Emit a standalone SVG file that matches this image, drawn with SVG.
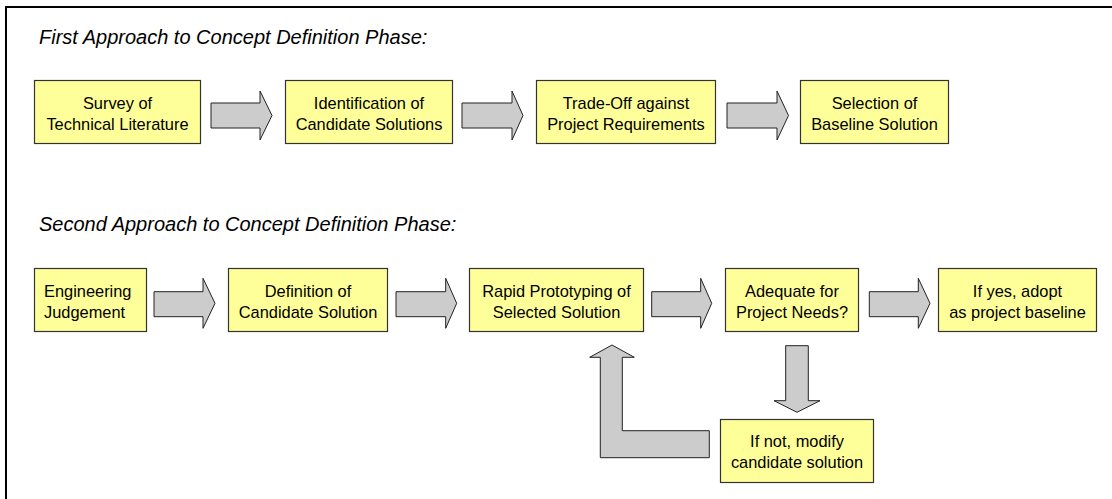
<svg xmlns="http://www.w3.org/2000/svg" width="1112" height="499" viewBox="0 0 1112 499">
  <style>
    .frame { stroke: #000; stroke-width: 2; fill: none; }
    .box { fill: #FFFF99; stroke: #333; stroke-width: 1.2; }
    .arrow { fill: #CCCCCC; stroke: #222; stroke-width: 1; stroke-linejoin: miter; }
    .heading { font-family: "Liberation Sans", Arial, sans-serif; font-size: 20px; font-style: italic; fill: #000; }
    .label { font-family: "Liberation Sans", Arial, sans-serif; font-size: 16.4px; fill: #000; text-anchor: middle; }
    .label.left { text-anchor: start; }
  </style>

  <rect x="0" y="0" width="1112" height="499" fill="#fff"/>

  <!-- frame: top and left rules -->
  <line class="frame" x1="6" y1="7" x2="1112" y2="7"/>
  <line class="frame" x1="6" y1="6" x2="6" y2="499"/>

  <text class="heading" x="39" y="43.5">First Approach to Concept Definition Phase:</text>
  <text class="heading" x="39" y="231">Second Approach to Concept Definition Phase:</text>

  <!-- connectors -->
  <g id="connectors">
    <polygon class="arrow" points="211,103 260,103 260,91 272,115.5 260,140 260,128 211,128"/>
    <polygon class="arrow" points="462,103 512,103 512,91 523,115.5 512,140 512,128 462,128"/>
    <polygon class="arrow" points="727,103 777,103 777,91 788.5,115.5 777,140 777,128 727,128"/>

    <polygon class="arrow" points="154,291.7 203,291.7 203,278.3 215,303.3 203,328.3 203,316.7 154,316.7"/>
    <polygon class="arrow" points="396,291.7 445.7,291.7 445.7,278.3 456.7,303.3 445.7,328.3 445.7,316.7 396,316.7"/>
    <polygon class="arrow" points="651.7,291.7 700.7,291.7 700.7,278.3 711.7,303.3 700.7,328.3 700.7,316.7 651.7,316.7"/>
    <polygon class="arrow" points="869.3,291.7 918.3,291.7 918.3,278.3 930,303.3 918.3,328.3 918.3,316.7 869.3,316.7"/>

    <!-- down: adequate? -> if not -->
    <polygon class="arrow" points="785.7,345.7 808.3,345.7 808.3,400.7 820,400.7 797,412.3 774,400.7 785.7,400.7"/>
    <!-- loop back: if not -> rapid prototyping -->
    <polygon class="arrow" points="612,345 634.3,357.3 622.3,357.3 622.3,430.7 709.3,430.7 709.3,457.7 600.3,457.7 600.3,357.3 589.7,357.3"/>
  </g>

  <!-- first approach -->
  <g id="survey">
    <rect class="box" x="34.5" y="80.5" width="166" height="63"/>
    <text class="label" x="117.5" y="108.5">Survey of</text>
    <text class="label" x="117.5" y="129.5">Technical Literature</text>
  </g>
  <g id="identification">
    <rect class="box" x="285.5" y="80.5" width="167" height="63"/>
    <text class="label" x="369" y="108.5">Identification of</text>
    <text class="label" x="369" y="129.5">Candidate Solutions</text>
  </g>
  <g id="tradeoff">
    <rect class="box" x="536.5" y="80.5" width="179" height="63"/>
    <text class="label" x="626" y="108.5">Trade-Off against</text>
    <text class="label" x="626" y="129.5">Project Requirements</text>
  </g>
  <g id="selection">
    <rect class="box" x="800.5" y="80.5" width="148" height="63"/>
    <text class="label" x="874.5" y="108.5">Selection of</text>
    <text class="label" x="874.5" y="129.5">Baseline Solution</text>
  </g>

  <!-- second approach -->
  <g id="judgement">
    <rect class="box" x="34.5" y="268.5" width="112" height="63"/>
    <text class="label left" x="44" y="296.5">Engineering</text>
    <text class="label left" x="44" y="317.5">Judgement</text>
  </g>
  <g id="definition">
    <rect class="box" x="228.5" y="268.5" width="159" height="63"/>
    <text class="label" x="308" y="296.5">Definition of</text>
    <text class="label" x="308" y="317.5">Candidate Solution</text>
  </g>
  <g id="prototyping">
    <rect class="box" x="469.5" y="268.5" width="174" height="63"/>
    <text class="label" x="556.5" y="296.5">Rapid Prototyping of</text>
    <text class="label" x="556.5" y="317.5">Selected Solution</text>
  </g>
  <g id="adequate">
    <rect class="box" x="725.5" y="268.5" width="133" height="63"/>
    <text class="label" x="792" y="296.5">Adequate for</text>
    <text class="label" x="792" y="317.5">Project Needs?</text>
  </g>
  <g id="adopt">
    <rect class="box" x="938.5" y="268.5" width="158" height="63"/>
    <text class="label" x="1017.5" y="296.5">If yes, adopt</text>
    <text class="label" x="1017.5" y="317.5">as project baseline</text>
  </g>
  <g id="modify">
    <rect class="box" x="720.5" y="419.5" width="153" height="63"/>
    <text class="label" x="797" y="447">If not, modify</text>
    <text class="label" x="797" y="468">candidate solution</text>
  </g>
</svg>
